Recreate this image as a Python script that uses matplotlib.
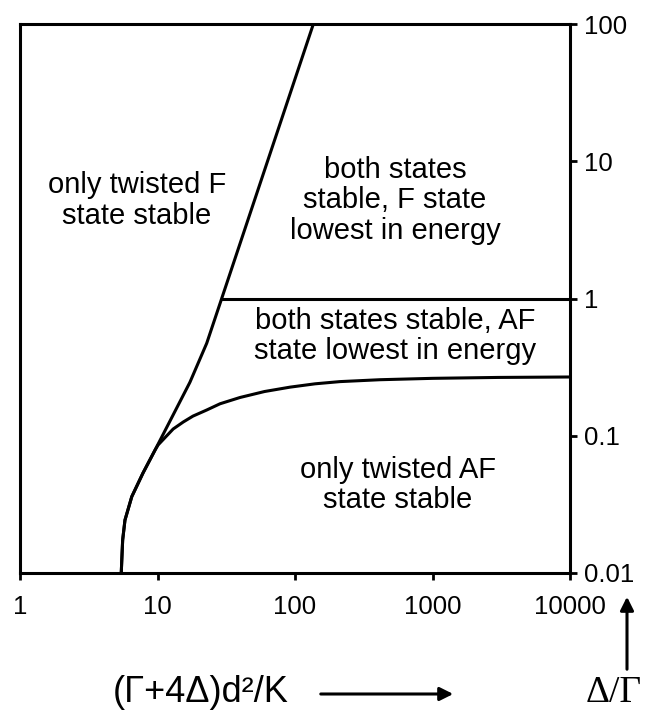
import matplotlib.pyplot as plt
from matplotlib.ticker import FixedLocator, FixedFormatter, NullLocator

plt.rcParams['font.family'] = ['Liberation Sans', 'DejaVu Sans']

# boundary of the twisted F state
f_x = [5.45, 5.5, 5.58, 5.8, 6.5, 7.85, 9.6, 10.4, 13.0, 17.2, 22.8, 29.3, 136]
f_y = [0.01, 0.0125, 0.0174, 0.0243, 0.036, 0.0536, 0.0787, 0.092, 0.142, 0.245, 0.472, 1.0, 100]
# boundary of the twisted AF state
af_x = [5.45, 5.5, 5.58, 5.8, 6.5, 7.85, 9.6, 10.1, 13.0, 15.4, 18.1, 22.8, 28.5, 39.8, 60, 92, 140, 212, 415, 1000, 3000, 10000]
af_y = [0.01, 0.0125, 0.0174, 0.0243, 0.036, 0.0536, 0.0787, 0.0857, 0.112, 0.126, 0.139, 0.154, 0.171, 0.19, 0.21, 0.226, 0.239, 0.248, 0.256, 0.262, 0.266, 0.268]
# F/AF lowest-energy border
eq_x = [29.3, 10000]
eq_y = [1.0, 1.0]

x_ticks = [1, 10, 100, 1000, 10000]
x_labels = ['1', '10', '100', '1000', '10000']
y_ticks = [0.01, 0.1, 1, 10, 100]
y_labels = ['0.01', '0.1', '1', '10', '100']

regions = ['only twisted F\nstate stable',
           'both states\nstable, F state\nlowest in energy',
           'both states stable, AF\nstate lowest in energy',
           'only twisted AF\nstate stable']
region_x = [7.1, 534, 534, 561]
region_y = [5.2, 5.2, 0.533, 0.0438]

fig = plt.figure(figsize=(6.55, 7.17), dpi=100)
ax = fig.add_axes([20/655, 1-573/717, 550/655, 549/717])
ax.set_xscale('log')
ax.set_yscale('log')
ax.set_xlim(1, 10000)
ax.set_ylim(0.01, 100)

lw = 2.2
ax.plot(f_x, f_y, color='black', lw=lw)
ax.plot(af_x, af_y, color='black', lw=lw)
ax.plot(eq_x, eq_y, color='black', lw=lw)

for s in ax.spines.values():
    s.set_linewidth(lw)

ax.xaxis.set_major_locator(FixedLocator(x_ticks))
ax.xaxis.set_major_formatter(FixedFormatter(x_labels))
ax.xaxis.set_minor_locator(NullLocator())
ax.yaxis.set_major_locator(FixedLocator(y_ticks))
ax.yaxis.set_major_formatter(FixedFormatter(y_labels))
ax.yaxis.set_minor_locator(NullLocator())
ax.yaxis.tick_right()
ax.tick_params(axis='both', direction='out', length=5, width=2, labelsize=18.5)
ax.tick_params(axis='x', pad=11)
ax.tick_params(axis='y', pad=5)

for t, x, y in zip(regions, region_x, region_y):
    ax.text(x, y, t, ha='center', va='center', fontsize=21, linespacing=1.12)

# axis captions with arrows
fig.text(113/655, 1-692/717, '(\u0393+4\u0394)d\u00b2/K', fontsize=26, ha='left', va='center')
ax.annotate('', xy=(456/655, 1-694/717), xytext=(318/655, 1-694/717),
            xycoords='figure fraction', textcoords='figure fraction',
            arrowprops=dict(arrowstyle='-|>', color='black', lw=2.2, mutation_scale=20))
fig.text(614/655, 1-693/717, '\u0394/\u0393', fontsize=27, ha='center', va='center',
         family='Liberation Serif')
ax.annotate('', xy=(627/655, 1-594/717), xytext=(627/655, 1-672/717),
            xycoords='figure fraction', textcoords='figure fraction',
            arrowprops=dict(arrowstyle='-|>', color='black', lw=2.2, mutation_scale=20))

fig.savefig('out.png', dpi=100)
